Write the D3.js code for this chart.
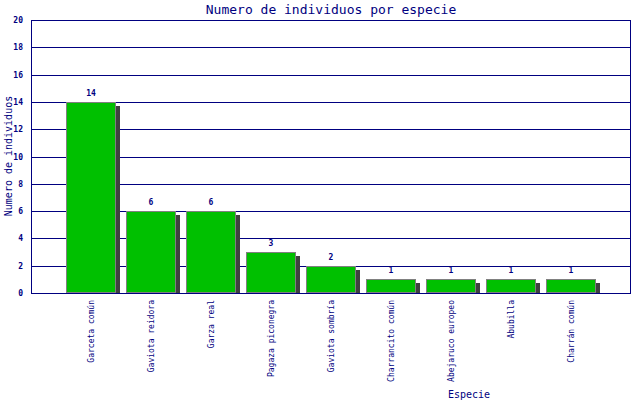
<!DOCTYPE html>
<html>
<head>
<meta charset="utf-8">
<script src="https://cdn.jsdelivr.net/npm/d3@7"></script>
<style>
  body { margin: 0; background: #fff; }
  text { font-family: "DejaVu Sans Mono", monospace; fill: #000080; }
</style>
</head>
<body>
<div id="chart"></div>
<script>
// data
var especies = ["Garceta común", "Gaviota reidora", "Garza real", "Pagaza piconegra",
                "Gaviota sombría", "Charrancito común", "Abejaruco europeo", "Abubilla", "Charrán común"];
var individuos = [14, 6, 6, 3, 2, 1, 1, 1, 1];
var yTicks = [0, 2, 4, 6, 8, 10, 12, 14, 16, 18, 20];

var W = 640, H = 400;
var margin = {top: 20, right: 9, bottom: 107, left: 31},
    width = W - margin.left - margin.right,
    height = H - margin.top - margin.bottom;

var svg = d3.select("#chart").append("svg")
    .attr("width", W)
    .attr("height", H);

var g = svg.append("g")
    .attr("transform", "translate(" + margin.left + "," + margin.top + ")");

var x = d3.scaleBand().domain(especies).range([0, width])
    .paddingInner(1 / 6).paddingOuter(7 / 12);
var y = d3.scaleLinear().domain([0, 20]).range([height, 0]);

var data = especies.map(function(d, i) { return {name: d, value: individuos[i]}; });

// grid lines
g.selectAll(".grid").data(yTicks).enter().append("line")
    .attr("x1", 0).attr("x2", width)
    .attr("y1", function(d) { return Math.round(y(d)) + 0.5; })
    .attr("y2", function(d) { return Math.round(y(d)) + 0.5; })
    .attr("stroke", "#000080")
    .attr("shape-rendering", "crispEdges");

// y tick labels
g.selectAll(".ylab").data(yTicks).enter().append("text")
    .attr("x", -8)
    .attr("y", function(d) { return y(d) + 3; })
    .attr("text-anchor", "end")
    .attr("font-size", 8)
    .attr("font-weight", "bold")
    .text(function(d) { return d; });

// shadows
g.selectAll(".shadow").data(data).enter().append("rect")
    .attr("x", function(d) { return x(d.name) + 4; })
    .attr("y", function(d) { return y(d.value) + 4; })
    .attr("width", x.bandwidth())
    .attr("height", function(d) { return height - y(d.value) - 4; })
    .attr("fill", "#404040")
    .attr("shape-rendering", "crispEdges");

// bars
g.selectAll(".bar").data(data).enter().append("rect")
    .attr("x", function(d) { return x(d.name) + 0.5; })
    .attr("y", function(d) { return Math.round(y(d.value)) + 0.5; })
    .attr("width", x.bandwidth() - 1)
    .attr("height", function(d) { return height - Math.round(y(d.value)) - 1; })
    .attr("fill", "#00c000")
    .attr("stroke", "#808080")
    .attr("shape-rendering", "crispEdges");

// value labels
g.selectAll(".val").data(data).enter().append("text")
    .attr("x", function(d) { return x(d.name) + x.bandwidth() / 2; })
    .attr("y", function(d) { return y(d.value) - 6; })
    .attr("text-anchor", "middle")
    .attr("font-size", 8)
    .attr("font-weight", "bold")
    .text(function(d) { return d.value; });

// frame
g.append("rect")
    .attr("x", 0.5).attr("y", 0.5)
    .attr("width", width - 1).attr("height", height)
    .attr("fill", "none")
    .attr("stroke", "#000080")
    .attr("shape-rendering", "crispEdges");

// x category labels (rotated)
g.selectAll(".xlab").data(especies).enter().append("text")
    .attr("transform", function(d) {
        return "translate(" + (x(d) + x.bandwidth() / 2 + 3) + "," + (height + 7) + ") rotate(-90)";
    })
    .attr("text-anchor", "end")
    .attr("font-size", 8)
    .text(function(d) { return d; });

// titles
svg.append("text")
    .attr("x", 331).attr("y", 14)
    .attr("text-anchor", "middle")
    .attr("font-size", 13)
    .text("Numero de individuos por especie");

svg.append("text")
    .attr("transform", "translate(12,156) rotate(-90)")
    .attr("text-anchor", "middle")
    .attr("font-size", 10)
    .text("Numero de individuos");

svg.append("text")
    .attr("x", 469).attr("y", 398)
    .attr("text-anchor", "middle")
    .attr("font-size", 10)
    .text("Especie");
</script>
</body>
</html>
